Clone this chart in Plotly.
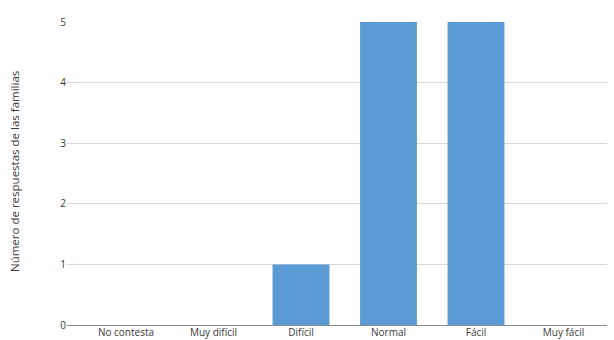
import plotly.graph_objects as go

categories = ["No contesta", "Muy difícil", "Difícil", "Normal", "Fácil", "Muy fácil"]
respuestas = [0, 0, 1, 5, 5, 0]
y_ticks = [0, 1, 2, 3, 4, 5]
y_title = "Número de respuestas de las familias"

FONT = "Open Sans, sans-serif"
TXT = "#3a3a3a"

fig = go.Figure(
    go.Bar(
        x=categories,
        y=respuestas,
        marker=dict(color="#5b9bd5", line=dict(width=0)),
        width=0.65,
        hoverinfo="x+y",
    )
)

fig.update_layout(
    width=614,
    height=340,
    margin=dict(l=67, r=7, t=22, b=15),
    plot_bgcolor="white",
    paper_bgcolor="white",
    showlegend=False,
    font=dict(family=FONT, size=10, color=TXT),
    xaxis=dict(
        type="category",
        range=[-0.674, 5.497],
        showgrid=False,
        showline=False,
        zeroline=False,
        ticks="",
        tickfont=dict(size=10, color=TXT),
        automargin=False,
    ),
    yaxis=dict(
        range=[0, 5],
        tickvals=y_ticks,
        showgrid=True,
        gridcolor="#d9d9d9",
        gridwidth=1,
        zeroline=True,
        zerolinecolor="#8c8c8c",
        zerolinewidth=1,
        showline=False,
        ticks="",
        tickfont=dict(size=10, color=TXT),
        automargin=False,
    ),
    annotations=[
        dict(
            text=y_title,
            xref="paper",
            yref="paper",
            x=(15 - 67) / 540,
            y=0.505,
            xanchor="center",
            yanchor="middle",
            textangle=-90,
            showarrow=False,
            font=dict(family=FONT, size=11.5, color=TXT),
        )
    ],
)

fig.write_html("out.html")
